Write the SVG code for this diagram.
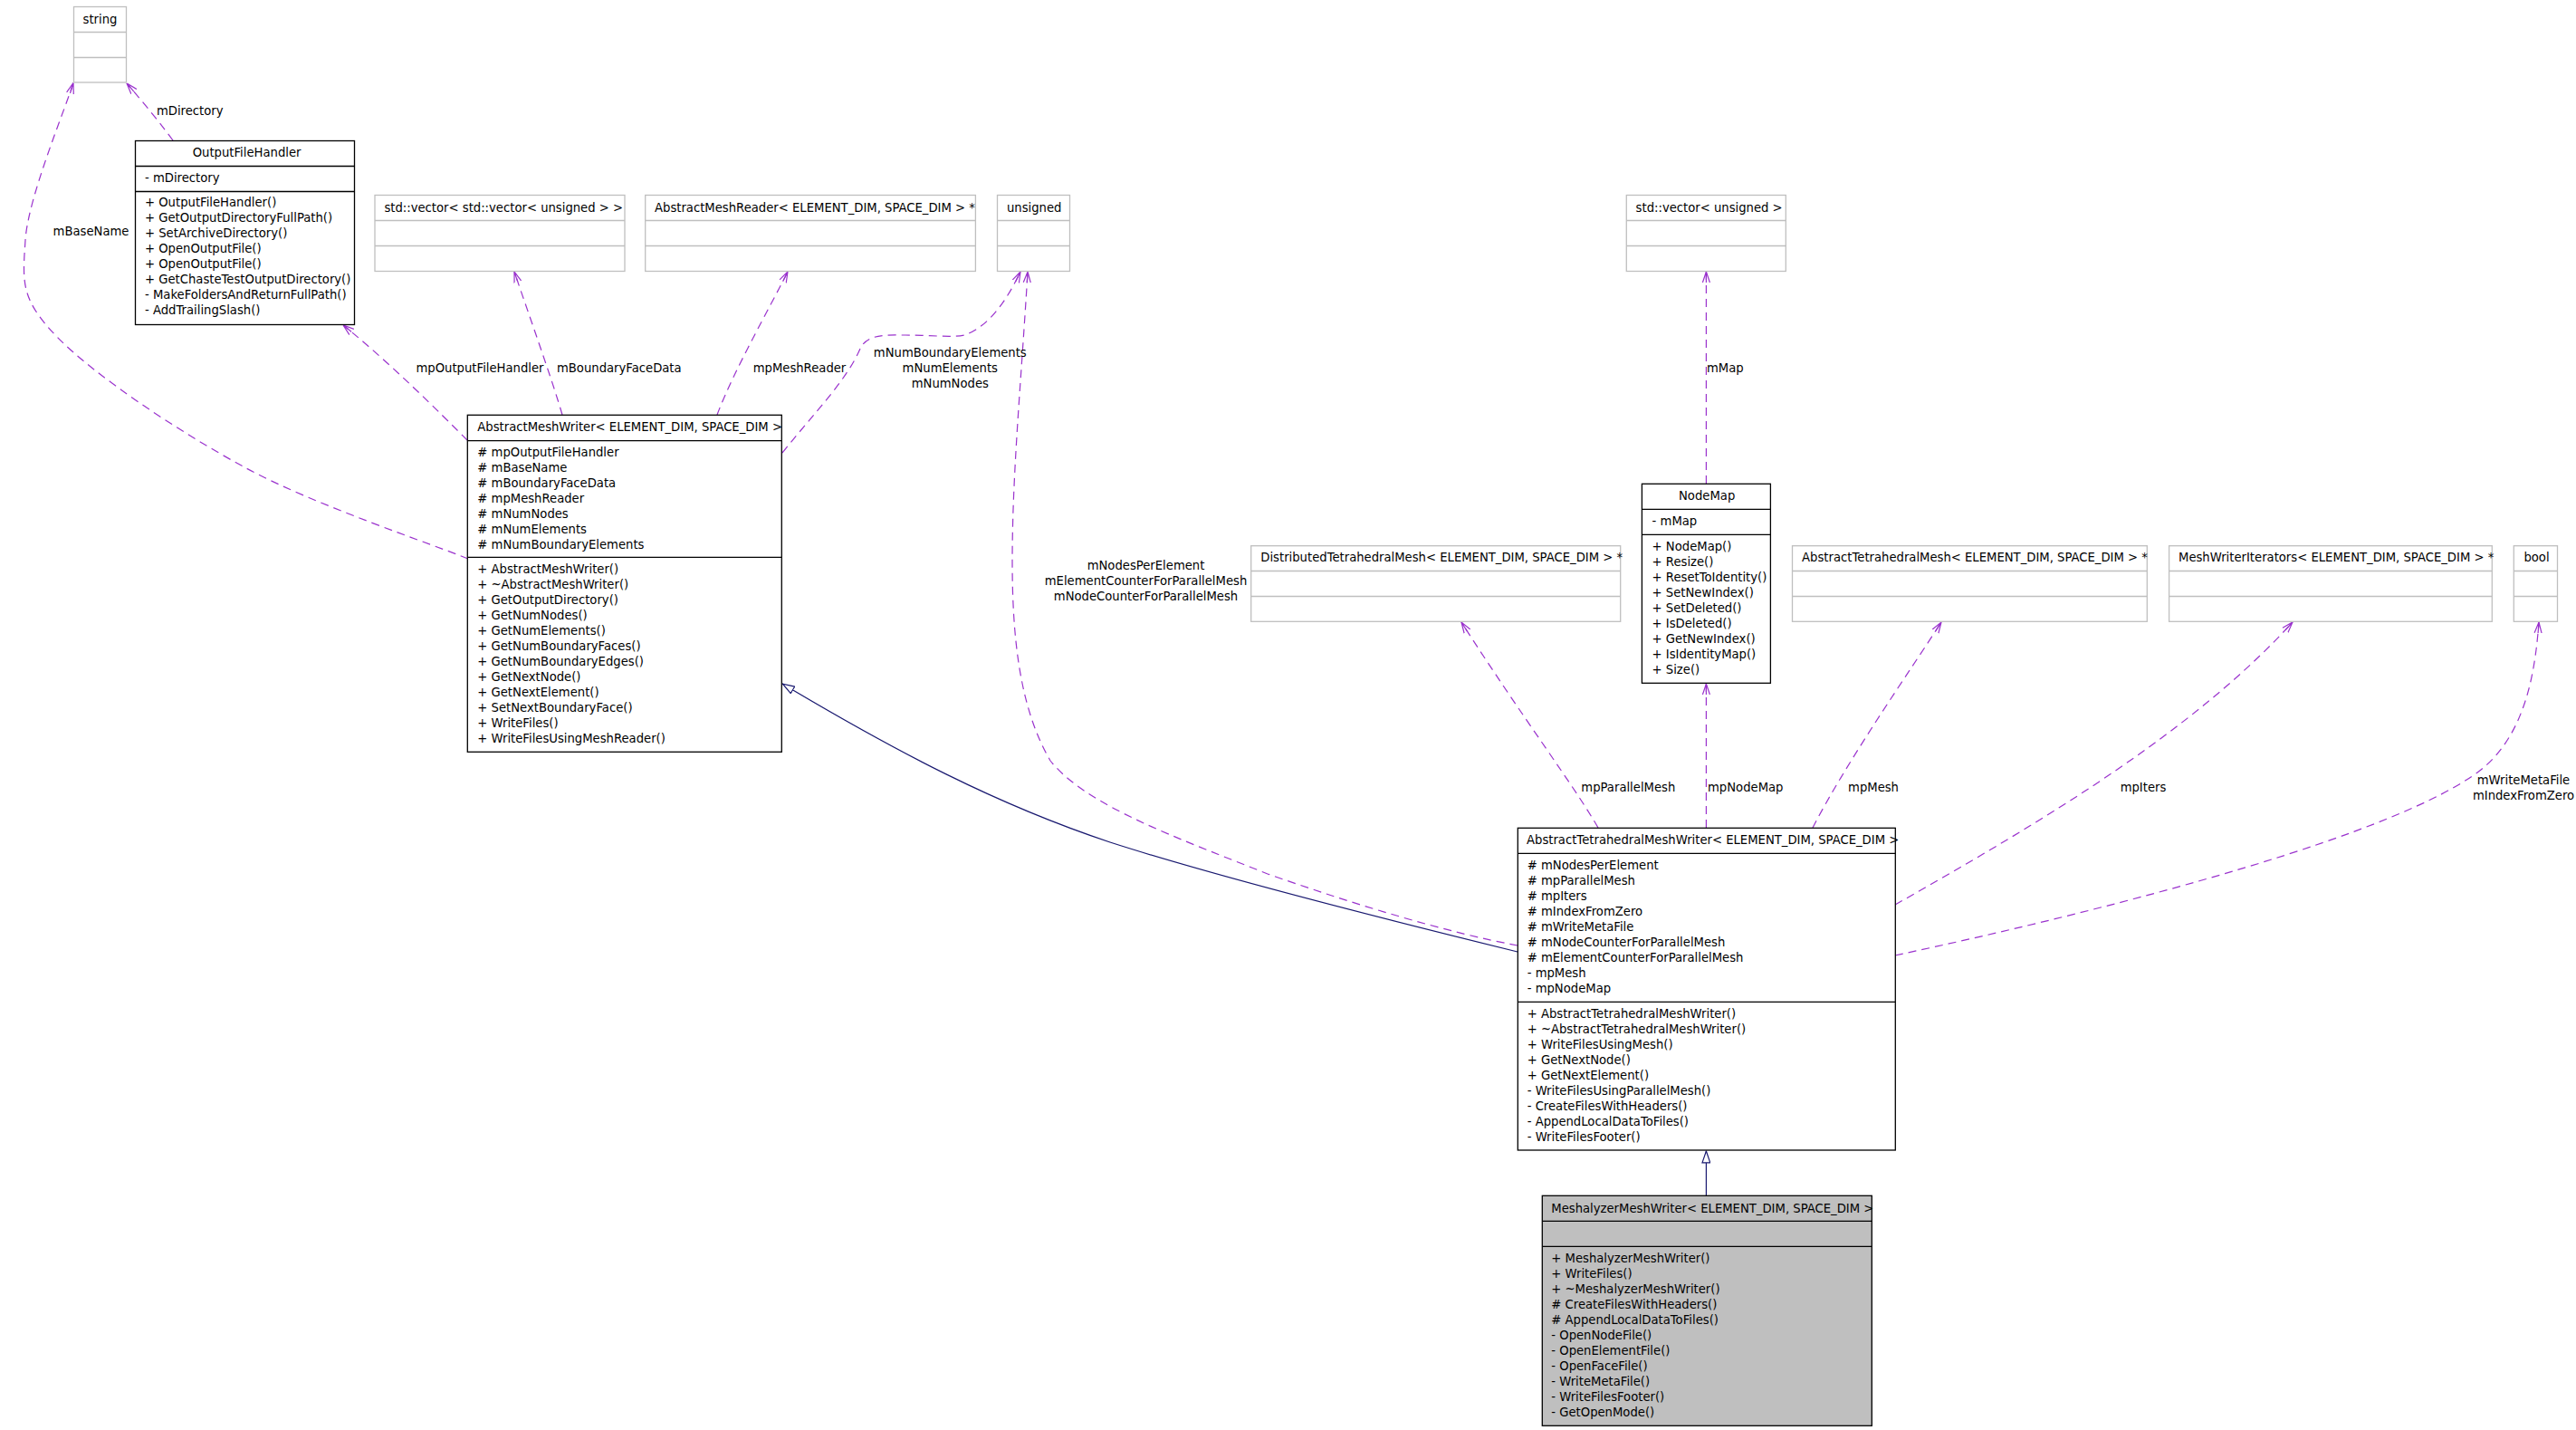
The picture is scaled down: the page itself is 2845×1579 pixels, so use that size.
<svg xmlns="http://www.w3.org/2000/svg" width="2845" height="1579" viewBox="0 0 2845 1579">
<style>
.t{font-family:"DejaVu Sans","Liberation Sans",sans-serif;font-size:13.2px;fill:#000}
.c{text-anchor:middle}
.bx{fill:#fff;stroke:#000;stroke-width:1.3}
.gb{fill:#fff;stroke:#bfbfbf;stroke-width:1.3}
.cur{fill:#bfbfbf;stroke:#000;stroke-width:1.3}
.ln{stroke:#000;stroke-width:1.3}
.gl{stroke:#bfbfbf;stroke-width:1.3}
.e{fill:none;stroke:#9a32cd;stroke-width:1.2;stroke-dasharray:9,6;marker-end:url(#ah)}
.inh{fill:none;stroke:#191970;stroke-width:1.2;marker-end:url(#tri)}
</style>
<defs>
<marker id="ah" viewBox="0 0 12 10" refX="12" refY="5" markerWidth="12" markerHeight="10" markerUnits="userSpaceOnUse" orient="auto"><path d="M0,1 L12,5 L0,9 M0,5 L12,5" fill="none" stroke="#9a32cd" stroke-width="1.2"/></marker>
<marker id="tri" viewBox="0 0 14 10" refX="14" refY="5" markerWidth="14" markerHeight="10" markerUnits="userSpaceOnUse" orient="auto"><path d="M0.6,0.6 L13.5,5 L0.6,9.4 Z" fill="#fff" stroke="#191970" stroke-width="1.2"/></marker>
</defs>
<rect width="2845" height="1579" fill="#fff"/>

<g id="connectors">
<path class="e" d="M191,155 C180,140 160,115 140,92"/>
<path class="e" d="M517,617 C476.2,600.3 347.7,557.8 272,517 C196.3,476.2 103.7,414 63,372 C22.3,330 25,311.8 28,265 C31,218.2 72.2,120 81,91.5"/>
<path class="e" d="M516,486 C485,455 430,400 379,359"/>
<path class="e" d="M621,458 C610,420 585,350 568,300"/>
<path class="e" d="M792,458 C810,410 850,340 870,300"/>
<path class="e" d="M864,500 C900,455 935,420 950,385 C958,368 980,370 1000,370 C1030,370 1050,373 1065,370 C1095,360 1115,325 1127,300"/>
<path class="e" d="M1676,1044 C1600,1030 1500,1000 1400,965 C1300,925 1200,890 1160,840 C1125,780 1118,700 1118,620 C1118,520 1128,420 1135,300"/>
<path class="e" d="M1884.4,534 L1884.4,300"/>
<path class="e" d="M1765,914 C1740,870 1680,790 1614,687"/>
<path class="e" d="M1884.4,914 L1884.4,755"/>
<path class="e" d="M2002,914 C2040,840 2110,740 2144,687"/>
<path class="e" d="M2093,999 C2250,910 2420,810 2532,687"/>
<path class="e" d="M2093,1055 C2350,1000 2650,920 2740,850 C2790,810 2800,740 2804,687"/>
<path class="inh" d="M1676,1051 C1550,1020 1350,970 1226,930 C1100,888 990,830 864,755"/>
<path class="inh" d="M1884.4,1320 L1884.4,1270.5"/>
<text class="t c" x="209.7" y="127.2">mDirectory</text>
<text class="t c" x="100.5" y="260.2">mBaseName</text>
<text class="t c" x="530" y="411.2">mpOutputFileHandler</text>
<text class="t c" x="683.8" y="411.2">mBoundaryFaceData</text>
<text class="t c" x="883" y="411.2">mpMeshReader</text>
<text class="t c" x="1049.3" y="394.2">mNumBoundaryElements</text>
<text class="t c" x="1049.3" y="411.2">mNumElements</text>
<text class="t c" x="1049.3" y="428.2">mNumNodes</text>
<text class="t" x="1885" y="411.2">mMap</text>
<text class="t c" x="1265.5" y="628.8">mNodesPerElement</text>
<text class="t c" x="1265.5" y="645.8">mElementCounterForParallelMesh</text>
<text class="t c" x="1265.5" y="662.8">mNodeCounterForParallelMesh</text>
<text class="t c" x="1798.3" y="873.8">mpParallelMesh</text>
<text class="t" x="1886" y="873.8">mpNodeMap</text>
<text class="t c" x="2069" y="873.8">mpMesh</text>
<text class="t c" x="2367" y="873.8">mpIters</text>
<text class="t c" x="2787" y="866.2">mWriteMetaFile</text>
<text class="t c" x="2787" y="883.2">mIndexFromZero</text>
</g>

<g id="n_string">
<rect class="gb" x="81.5" y="7.5" width="58" height="83.5"/>
<line class="gl" x1="81.5" y1="35.5" x2="139.5" y2="35.5"/>
<line class="gl" x1="81.5" y1="63.5" x2="139.5" y2="63.5"/>
<text class="t c" x="110.5" y="26">string</text>
</g>

<g id="n_outputfilehandler">
<rect class="bx" x="149.5" y="155.5" width="242" height="203"/>
<line class="ln" x1="149.5" y1="183.5" x2="391.5" y2="183.5"/>
<line class="ln" x1="149.5" y1="211.5" x2="391.5" y2="211.5"/>
<text class="t" x="212.7" y="173">OutputFileHandler</text>
<text class="t" x="160" y="201.2">- mDirectory</text>
<text class="t" x="160" y="227.8">+ OutputFileHandler()<tspan x="160" dy="17">+ GetOutputDirectoryFullPath()</tspan><tspan x="160" dy="17">+ SetArchiveDirectory()</tspan><tspan x="160" dy="17">+ OpenOutputFile()</tspan><tspan x="160" dy="17">+ OpenOutputFile()</tspan><tspan x="160" dy="17">+ GetChasteTestOutputDirectory()</tspan><tspan x="160" dy="17">- MakeFoldersAndReturnFullPath()</tspan><tspan x="160" dy="17">- AddTrailingSlash()</tspan></text>
</g>

<g id="n_vecvec">
<rect class="gb" x="414" y="215.5" width="276" height="84"/>
<line class="gl" x1="414" y1="243.5" x2="690" y2="243.5"/>
<line class="gl" x1="414" y1="271.5" x2="690" y2="271.5"/>
<text class="t" x="424.4" y="233.5">std::vector&lt; std::vector&lt; unsigned &gt; &gt;</text>
</g>

<g id="n_abstractmeshreader">
<rect class="gb" x="712.7" y="215.5" width="364.7" height="84"/>
<line class="gl" x1="712.7" y1="243.5" x2="1077.4" y2="243.5"/>
<line class="gl" x1="712.7" y1="271.5" x2="1077.4" y2="271.5"/>
<text class="t" x="723" y="233.5">AbstractMeshReader&lt; ELEMENT_DIM, SPACE_DIM &gt; *</text>
</g>

<g id="n_unsigned">
<rect class="gb" x="1101.5" y="215.5" width="80" height="84"/>
<line class="gl" x1="1101.5" y1="243.5" x2="1181.5" y2="243.5"/>
<line class="gl" x1="1101.5" y1="271.5" x2="1181.5" y2="271.5"/>
<text class="t" x="1112" y="233.5">unsigned</text>
</g>

<g id="n_vecunsigned">
<rect class="gb" x="1796.3" y="215.5" width="176" height="84"/>
<line class="gl" x1="1796.3" y1="243.5" x2="1972.3" y2="243.5"/>
<line class="gl" x1="1796.3" y1="271.5" x2="1972.3" y2="271.5"/>
<text class="t" x="1806.6" y="233.5">std::vector&lt; unsigned &gt;</text>
</g>

<g id="n_abstractmeshwriter">
<rect class="bx" x="516.3" y="458.3" width="347" height="372"/>
<line class="ln" x1="516.3" y1="486.7" x2="863.3" y2="486.7"/>
<line class="ln" x1="516.3" y1="615.3" x2="863.3" y2="615.3"/>
<text class="t" x="527.3" y="476.2">AbstractMeshWriter&lt; ELEMENT_DIM, SPACE_DIM &gt;</text>
<text class="t" x="527.3" y="503.8"># mpOutputFileHandler<tspan x="527.3" dy="17"># mBaseName</tspan><tspan x="527.3" dy="17"># mBoundaryFaceData</tspan><tspan x="527.3" dy="17"># mpMeshReader</tspan><tspan x="527.3" dy="17"># mNumNodes</tspan><tspan x="527.3" dy="17"># mNumElements</tspan><tspan x="527.3" dy="17"># mNumBoundaryElements</tspan></text>
<text class="t" x="527.3" y="633.2">+ AbstractMeshWriter()<tspan x="527.3" dy="17">+ ~AbstractMeshWriter()</tspan><tspan x="527.3" dy="17">+ GetOutputDirectory()</tspan><tspan x="527.3" dy="17">+ GetNumNodes()</tspan><tspan x="527.3" dy="17">+ GetNumElements()</tspan><tspan x="527.3" dy="17">+ GetNumBoundaryFaces()</tspan><tspan x="527.3" dy="17">+ GetNumBoundaryEdges()</tspan><tspan x="527.3" dy="17">+ GetNextNode()</tspan><tspan x="527.3" dy="17">+ GetNextElement()</tspan><tspan x="527.3" dy="17">+ SetNextBoundaryFace()</tspan><tspan x="527.3" dy="17">+ WriteFiles()</tspan><tspan x="527.3" dy="17">+ WriteFilesUsingMeshReader()</tspan></text>
</g>

<g id="n_nodemap">
<rect class="bx" x="1813.4" y="534.3" width="142" height="220"/>
<line class="ln" x1="1813.4" y1="562.3" x2="1955.4" y2="562.3"/>
<line class="ln" x1="1813.4" y1="590.3" x2="1955.4" y2="590.3"/>
<text class="t" x="1854" y="552.2">NodeMap</text>
<text class="t" x="1824.6" y="580.2">- mMap</text>
<text class="t" x="1824.6" y="607.8">+ NodeMap()<tspan x="1824.6" dy="17">+ Resize()</tspan><tspan x="1824.6" dy="17">+ ResetToIdentity()</tspan><tspan x="1824.6" dy="17">+ SetNewIndex()</tspan><tspan x="1824.6" dy="17">+ SetDeleted()</tspan><tspan x="1824.6" dy="17">+ IsDeleted()</tspan><tspan x="1824.6" dy="17">+ GetNewIndex()</tspan><tspan x="1824.6" dy="17">+ IsIdentityMap()</tspan><tspan x="1824.6" dy="17">+ Size()</tspan></text>
</g>

<g id="n_distributedtetrahedralmesh">
<rect class="gb" x="1381.7" y="602.7" width="408" height="83.6"/>
<line class="gl" x1="1381.7" y1="630.5" x2="1789.7" y2="630.5"/>
<line class="gl" x1="1381.7" y1="658.5" x2="1789.7" y2="658.5"/>
<text class="t" x="1392.3" y="620.2">DistributedTetrahedralMesh&lt; ELEMENT_DIM, SPACE_DIM &gt; *</text>
</g>

<g id="n_abstracttetrahedralmesh">
<rect class="gb" x="1979.5" y="602.7" width="391.8" height="83.6"/>
<line class="gl" x1="1979.5" y1="630.5" x2="2371.3" y2="630.5"/>
<line class="gl" x1="1979.5" y1="658.5" x2="2371.3" y2="658.5"/>
<text class="t" x="1990.1" y="620.2">AbstractTetrahedralMesh&lt; ELEMENT_DIM, SPACE_DIM &gt; *</text>
</g>

<g id="n_meshwriteriterators">
<rect class="gb" x="2395.6" y="602.7" width="356.7" height="83.6"/>
<line class="gl" x1="2395.6" y1="630.5" x2="2752.3" y2="630.5"/>
<line class="gl" x1="2395.6" y1="658.5" x2="2752.3" y2="658.5"/>
<text class="t" x="2406" y="620.2">MeshWriterIterators&lt; ELEMENT_DIM, SPACE_DIM &gt; *</text>
</g>

<g id="n_bool">
<rect class="gb" x="2776.3" y="602.7" width="48.2" height="83.6"/>
<line class="gl" x1="2776.3" y1="630.5" x2="2824.5" y2="630.5"/>
<line class="gl" x1="2776.3" y1="658.5" x2="2824.5" y2="658.5"/>
<text class="t" x="2787.4" y="620.2">bool</text>
</g>

<g id="n_abstracttetrahedralmeshwriter">
<rect class="bx" x="1676.3" y="914.3" width="417" height="355.7"/>
<line class="ln" x1="1676.3" y1="942.3" x2="2093.3" y2="942.3"/>
<line class="ln" x1="1676.3" y1="1106.3" x2="2093.3" y2="1106.3"/>
<text class="t" x="1686" y="931.8">AbstractTetrahedralMeshWriter&lt; ELEMENT_DIM, SPACE_DIM &gt;</text>
<text class="t" x="1686.7" y="959.8"># mNodesPerElement<tspan x="1686.7" dy="17"># mpParallelMesh</tspan><tspan x="1686.7" dy="17"># mpIters</tspan><tspan x="1686.7" dy="17"># mIndexFromZero</tspan><tspan x="1686.7" dy="17"># mWriteMetaFile</tspan><tspan x="1686.7" dy="17"># mNodeCounterForParallelMesh</tspan><tspan x="1686.7" dy="17"># mElementCounterForParallelMesh</tspan><tspan x="1686.7" dy="17">- mpMesh</tspan><tspan x="1686.7" dy="17">- mpNodeMap</tspan></text>
<text class="t" x="1686.7" y="1123.8">+ AbstractTetrahedralMeshWriter()<tspan x="1686.7" dy="17">+ ~AbstractTetrahedralMeshWriter()</tspan><tspan x="1686.7" dy="17">+ WriteFilesUsingMesh()</tspan><tspan x="1686.7" dy="17">+ GetNextNode()</tspan><tspan x="1686.7" dy="17">+ GetNextElement()</tspan><tspan x="1686.7" dy="17">- WriteFilesUsingParallelMesh()</tspan><tspan x="1686.7" dy="17">- CreateFilesWithHeaders()</tspan><tspan x="1686.7" dy="17">- AppendLocalDataToFiles()</tspan><tspan x="1686.7" dy="17">- WriteFilesFooter()</tspan></text>
</g>

<g id="n_meshalyzermeshwriter">
<rect class="cur" x="1703.3" y="1320.3" width="364" height="254"/>
<line class="ln" x1="1703.3" y1="1348.3" x2="2067.3" y2="1348.3"/>
<line class="ln" x1="1703.3" y1="1376.3" x2="2067.3" y2="1376.3"/>
<text class="t" x="1713.3" y="1338.8">MeshalyzerMeshWriter&lt; ELEMENT_DIM, SPACE_DIM &gt;</text>
<text class="t" x="1713.3" y="1393.8">+ MeshalyzerMeshWriter()<tspan x="1713.3" dy="17">+ WriteFiles()</tspan><tspan x="1713.3" dy="17">+ ~MeshalyzerMeshWriter()</tspan><tspan x="1713.3" dy="17"># CreateFilesWithHeaders()</tspan><tspan x="1713.3" dy="17"># AppendLocalDataToFiles()</tspan><tspan x="1713.3" dy="17">- OpenNodeFile()</tspan><tspan x="1713.3" dy="17">- OpenElementFile()</tspan><tspan x="1713.3" dy="17">- OpenFaceFile()</tspan><tspan x="1713.3" dy="17">- WriteMetaFile()</tspan><tspan x="1713.3" dy="17">- WriteFilesFooter()</tspan><tspan x="1713.3" dy="17">- GetOpenMode()</tspan></text>
</g>
</svg>
